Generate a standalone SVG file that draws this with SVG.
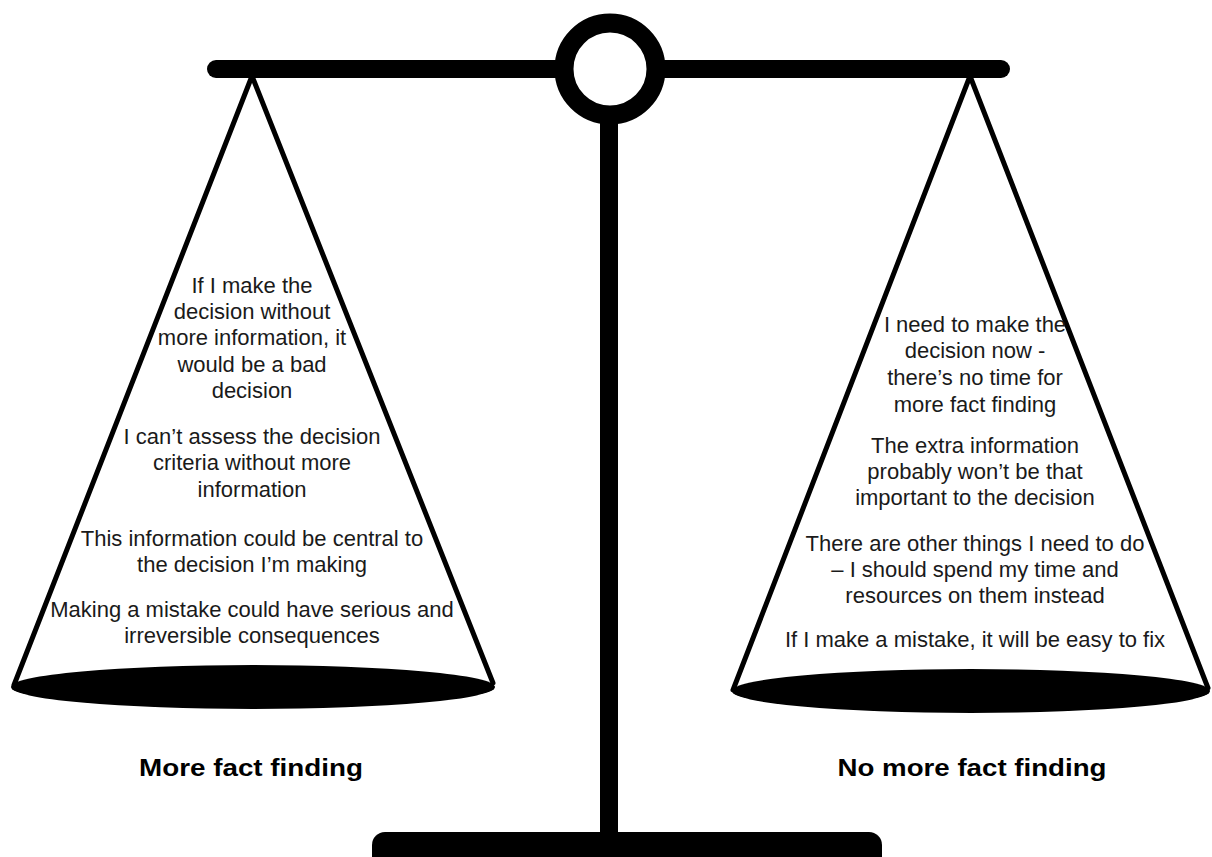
<svg xmlns="http://www.w3.org/2000/svg" width="1212" height="857" viewBox="0 0 1212 857">
<style>
.ln{stroke:#000;stroke-width:5;stroke-linecap:round;fill:none}
.t{font-family:"Liberation Sans",Arial,sans-serif;font-size:22px;fill:#1a1a1a;text-anchor:middle}
.b{font-family:"Liberation Sans",Arial,sans-serif;font-size:24px;font-weight:bold;fill:#000;text-anchor:middle}
</style>
<rect width="1212" height="857" fill="#fff"/>
<g id="stand">
<rect x="600" y="100" width="18" height="740" fill="#000"/>
<rect x="372" y="832" width="510" height="45" rx="13" fill="#000"/>
</g>
<g id="connectors">
<line class="ln" x1="252" y1="76" x2="14" y2="685"/>
<line class="ln" x1="252" y1="76" x2="493" y2="683"/>
<line class="ln" x1="970" y1="76" x2="733" y2="690"/>
<line class="ln" x1="970" y1="76" x2="1208" y2="688"/>
</g>
<g id="beam">
<rect x="207" y="60" width="803" height="18" rx="9" fill="#000"/>
<circle cx="610" cy="69" r="46" fill="#fff" stroke="#000" stroke-width="19"/>
</g>
<g id="left-pan">
<ellipse cx="253" cy="687" rx="242" ry="22" fill="#000"/>
<text class="t" x="252" y="293">If I make the</text>
<text class="t" x="252" y="319">decision without</text>
<text class="t" x="252" y="345">more information, it</text>
<text class="t" x="252" y="372">would be a bad</text>
<text class="t" x="252" y="398">decision</text>
<text class="t" x="252" y="444">I can’t assess the decision</text>
<text class="t" x="252" y="470">criteria without more</text>
<text class="t" x="252" y="497">information</text>
<text class="t" x="252" y="546">This information could be central to</text>
<text class="t" x="252" y="572">the decision I’m making</text>
<text class="t" x="252" y="617">Making a mistake could have serious and</text>
<text class="t" x="252" y="643">irreversible consequences</text>
</g>
<g id="right-pan">
<ellipse cx="971" cy="691" rx="239" ry="22" fill="#000"/>
<text class="t" x="975" y="332">I need to make the</text>
<text class="t" x="975" y="358">decision now -</text>
<text class="t" x="975" y="385">there’s no time for</text>
<text class="t" x="975" y="412">more fact finding</text>
<text class="t" x="975" y="453">The extra information</text>
<text class="t" x="975" y="479">probably won’t be that</text>
<text class="t" x="975" y="505">important to the decision</text>
<text class="t" x="975" y="551">There are other things I need to do</text>
<text class="t" x="975" y="577">– I should spend my time and</text>
<text class="t" x="975" y="603">resources on them instead</text>
<text class="t" x="975" y="647">If I make a mistake, it will be easy to fix</text>
</g>
<g id="labels">
<text class="b" x="251" y="776" textLength="224" lengthAdjust="spacingAndGlyphs">More fact finding</text>
<text class="b" x="972" y="776" textLength="269" lengthAdjust="spacingAndGlyphs">No more fact finding</text>
</g>
</svg>
